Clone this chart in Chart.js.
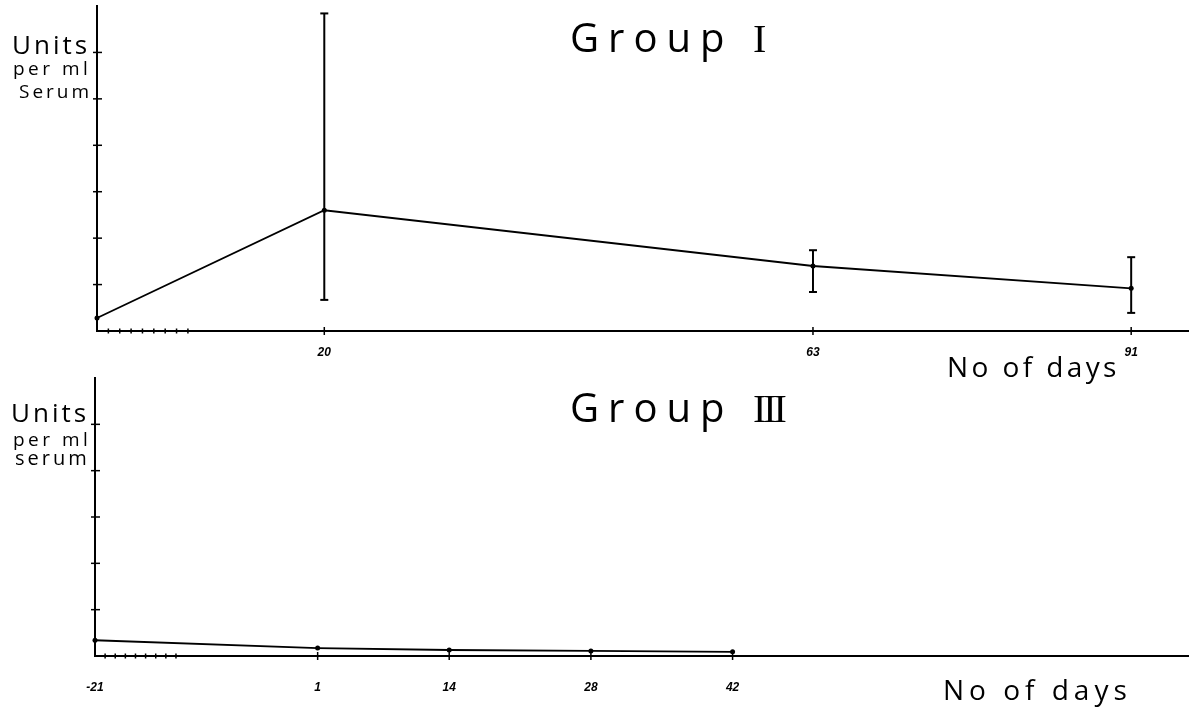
<!DOCTYPE html>
<html><head><meta charset="utf-8">
<script src="https://cdn.jsdelivr.net/npm/chart.js@4"></script>
<style>
html,body{margin:0;padding:0;background:#fff;}
body{width:1199px;height:714px;overflow:hidden;position:relative;font-family:"Open Sans",sans-serif;color:#000;}
canvas{position:absolute;left:0;}
.t{position:absolute;white-space:nowrap;line-height:1;}
.rn{font-family:"Liberation Serif",serif;}
</style></head><body>
<canvas id="top" width="1199" height="370" style="top:0"></canvas>
<canvas id="bot" width="1199" height="344" style="top:370px"></canvas>

<div class="t" style="left:570px;top:17px;font-size:40px;letter-spacing:9px;">Group <span class="rn">I</span></div>
<div class="t" style="left:12px;top:31px;font-size:26px;letter-spacing:3px;">Units</div>
<div class="t" style="left:13px;top:59px;font-size:19px;letter-spacing:3.5px;">per ml</div>
<div class="t" style="left:19px;top:82px;font-size:19px;letter-spacing:3px;">Serum</div>
<div class="t" style="left:947px;top:352px;font-size:28px;letter-spacing:3.4px;">No of days</div>

<div class="t" style="left:570px;top:387px;font-size:40px;letter-spacing:9px;">Group <span class="rn" style="letter-spacing:-3px;">III</span></div>
<div class="t" style="left:11px;top:399px;font-size:26px;letter-spacing:3px;">Units</div>
<div class="t" style="left:13px;top:430px;font-size:19px;letter-spacing:3.5px;">per ml</div>
<div class="t" style="left:15px;top:448px;font-size:20px;letter-spacing:3px;">serum</div>
<div class="t" style="left:943px;top:675px;font-size:28px;letter-spacing:5px;">No of days</div>

<script>
// ---- Group I data ----
const groupIDays = [0, 20, 63, 91];
const groupIMean = [0.28, 2.6, 1.4, 0.92];
const groupILow  = [null, 0.67, 0.84, 0.39];
const groupIHigh = [null, 6.84, 1.74, 1.59];
const groupIDayLabels = [20, 63, 91];
const groupIMinorDays = [1, 2, 3, 4, 5, 6, 7, 8];

// ---- Group III data ----
const groupIIIDays = [-21, 1, 14, 28, 42];
const groupIIIMean = [0.34, 0.17, 0.13, 0.11, 0.09];
const groupIIIDayLabels = [-21, 1, 14, 28, 42];
const groupIIIMinorDays = [-20, -19, -18, -17, -16, -15, -14, -13];

function line(ctx, x1, y1, x2, y2) {
  ctx.beginPath(); ctx.moveTo(x1, y1); ctx.lineTo(x2, y2); ctx.stroke();
}

const decor = {
  id: 'decor',
  afterDatasetsDraw(chart, args, opts) {
    const ctx = chart.ctx, xs = chart.scales.x, ys = chart.scales.y;
    ctx.save();
    ctx.strokeStyle = '#000';
    ctx.lineCap = 'butt';
    // error bars
    if (opts.days && opts.low) {
      ctx.lineWidth = 2;
      opts.days.forEach((d, i) => {
        if (opts.low[i] == null) return;
        const px = xs.getPixelForValue(d);
        const a = ys.getPixelForValue(opts.low[i]);
        const b = ys.getPixelForValue(opts.high[i]);
        line(ctx, px, a, px, b);
        line(ctx, px - 4, a, px + 4, a);
        line(ctx, px - 4, b, px + 4, b);
      });
    }
    // y-axis cross ticks
    ctx.lineWidth = 1.5;
    ys.ticks.forEach(t => {
      if (t.value === ys.min || t.value === ys.max) return;
      const py = ys.getPixelForValue(t.value);
      line(ctx, xs.left - 4, py, xs.left + 5, py);
    });
    // x-axis cross ticks
    xs.ticks.forEach(t => {
      const px = xs.getPixelForValue(t.value);
      const major = opts.labels.includes(t.value);
      const h = major ? 4 : 2.5;
      if (t.value === xs.min) return;
      line(ctx, px, ys.bottom - h, px, ys.bottom + h);
    });
    ctx.restore();
  }
};

function makeChart(id, days, mean, cfg) {
  const tickValues = Array.from(new Set([cfg.xmin, ...cfg.minor, ...cfg.labels])).sort((a, b) => a - b);
  return new Chart(document.getElementById(id), {
    type: 'line',
    data: {
      datasets: [{
        data: days.map((d, i) => ({ x: d, y: mean[i] })),
        borderColor: '#000',
        backgroundColor: '#000',
        borderWidth: 1.8,
        pointRadius: 2.5,
        pointBackgroundColor: '#000',
        pointBorderWidth: 0,
        tension: 0,
        clip: false
      }]
    },
    plugins: [decor],
    options: {
      responsive: false,
      animation: false,
      events: [],
      layout: { padding: cfg.padding },
      plugins: {
        legend: { display: false },
        tooltip: { enabled: false },
        title: { display: false },
        decor: { days: days, low: cfg.low, high: cfg.high, labels: cfg.labels }
      },
      scales: {
        x: {
          type: 'linear',
          min: cfg.xmin, max: cfg.xmax,
          border: { display: true, color: '#000', width: 2 },
          grid: { display: false, drawTicks: false },
          afterBuildTicks: s => { s.ticks = tickValues.map(v => ({ value: v })); },
          afterFit: s => { s.height = cfg.axisH; },
          ticks: {
            autoSkip: false, maxRotation: 0, padding: cfg.tickPad, color: '#000',
            font: { family: 'Liberation Sans', size: 12, weight: 'bold', style: 'italic' },
            callback: v => cfg.labels.includes(v) ? String(v) : ''
          }
        },
        y: {
          min: 0, max: cfg.ymax,
          border: { display: true, color: '#000', width: 2 },
          grid: { display: false, drawTicks: false },
          ticks: { display: false, stepSize: 1 },
          afterFit: s => { s.width = 0; }
        }
      }
    }
  });
}

makeChart('top', groupIDays, groupIMean, {
  low: groupILow, high: groupIHigh, labels: groupIDayLabels, minor: groupIMinorDays,
  xmin: 0, xmax: 96, ymax: 7, tickPad: 14, axisH: 35,
  padding: { left: 97, right: 11, top: 6, bottom: 4 }
});

makeChart('bot', groupIIIDays, groupIIIMean, {
  low: null, high: null, labels: groupIIIDayLabels, minor: groupIIIMinorDays,
  xmin: -21, xmax: 87, ymax: 6, tickPad: 24, axisH: 48,
  padding: { left: 95, right: 11, top: 8, bottom: 10 }
});
</script>
</body></html>
